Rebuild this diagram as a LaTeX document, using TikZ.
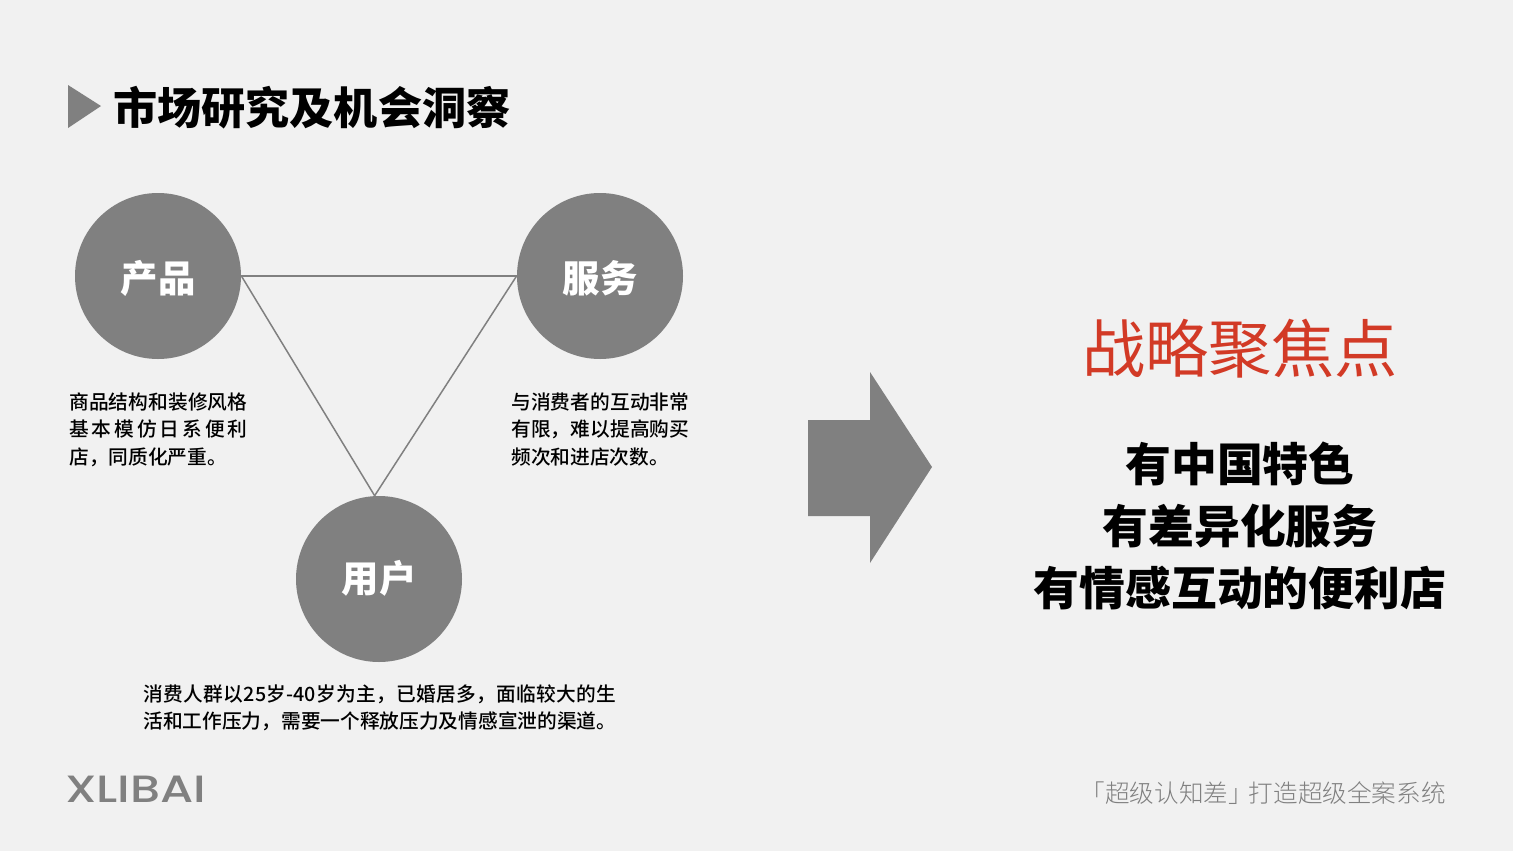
\documentclass[tikz,border=0pt]{standalone}
\usepackage{fontspec}
\setmainfont{Noto Sans CJK SC}
\newfontfamily\bodyfont{Noto Sans CJK SC Medium}
\newfontfamily\lightfont{Noto Sans CJK SC Light}
\newfontfamily\logofont{Poppins Medium}
\XeTeXlinebreaklocale "zh"
\XeTeXlinebreakskip=0pt plus 1pt
\definecolor{pagebg}{HTML}{F1F1F1}
\definecolor{shapegray}{HTML}{808080}
\definecolor{focusred}{HTML}{D23A26}
\tikzset{
  circlenode/.style={circle,fill=shapegray,minimum size=83pt,inner sep=0pt,text=white,text height=17pt,text depth=0.8pt,font=\bfseries\fontsize{18.7}{22}\selectfont},
  bodytext/.style={anchor=north west,inner sep=0pt,align=justify,text=black,font=\bodyfont\fontsize{9.85}{13.75}\selectfont},
  linkline/.style={shapegray,line width=0.75pt}
}
\begin{document}
\begin{tikzpicture}[x=0.5pt,y=-0.5pt]
  \useasboundingbox[fill=pagebg] (0,0) rectangle (1513,851);
  % title
  \fill[shapegray] (68,85) -- (101,106) -- (68,128) -- cycle;
  \node[anchor=west,inner sep=0pt,font=\bfseries\fontsize{22.05}{26}\selectfont] (title) at (113,108) {市场研究及机会洞察};
  % circles
  \node[circlenode] (product) at (158,276) {产品};
  \node[circlenode] (service) at (600,276) {服务};
  \node[circlenode,text height=14.6pt,text depth=1.4pt] (user) at (379,579) {用户};
  \begin{scope}[linkline]
    \draw (product.east) to (service.west);
    \draw (product.east) to (user.93);
    \draw (service.west) to (user.93);
  \end{scope}
  % texts under the circles
  \node[bodytext,text width=89pt] (producttext) at (69,392) {商品结构和装修风格\linebreak 基本模仿日系便利\linebreak 店，同质化严重。};
  \node[bodytext,text width=89pt] (servicetext) at (511,392) {与消费者的互动非常\linebreak 有限，难以提高购买\linebreak 频次和进店次数。};
  \node[bodytext,text width=236.5pt] (usertext) at (143,684) {消费人群以25岁-40岁为主，已婚居多，面临较大的生\linebreak 活和工作压力，需要一个释放压力及情感宣泄的渠道。};
  % arrow
  \fill[shapegray] (808,420) -- (870,420) -- (870,372) -- (932,467) -- (870,563) -- (870,516) -- (808,516) -- cycle;
  % right side
  \node[text=focusred,inner sep=0pt,font=\fontsize{31.6}{36}\selectfont] (focus) at (1240,349) {战略聚焦点};
  \node[inner sep=0pt,align=center,font=\bfseries\fontsize{22.9}{31.2}\selectfont] (points) at (1240,526) {有中国特色\\有差异化服务\\有情感互动的便利店};
  % footer
  \node[anchor=west,inner sep=0pt,xscale=1.255,transform shape,text=shapegray,font=\logofont\fontsize{19}{22}\selectfont] (logo) at (64.5,789) {XLIBAI};
  \node[anchor=east,inner sep=0pt,text=shapegray,font=\lightfont\fontsize{12.3}{14}\selectfont] (slogan) at (1446,793) {「超级认知差」\kern-2pt 打造超级全案系统};
\end{tikzpicture}
\end{document}
